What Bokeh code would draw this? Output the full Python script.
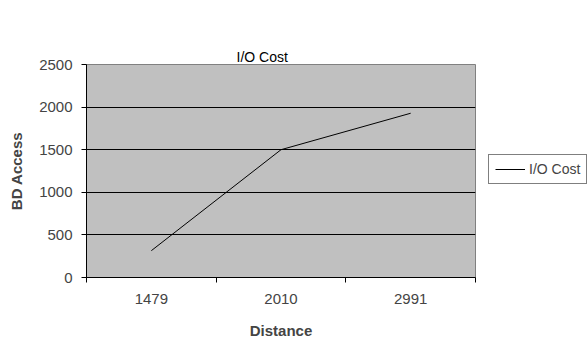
from bokeh.plotting import figure
from bokeh.models import Range1d, FixedTicker, Legend, LegendItem, LinearAxis
from bokeh.embed import file_html
from bokeh.resources import INLINE

categories = ["1479", "2010", "2991"]
io_cost = [315, 1500, 1928]
y_ticks = [0, 500, 1000, 1500, 2000, 2500]

FONT = "Liberation Sans"

# category slots: category i occupies [i, i+1], drawn at its centre
x_pos = [i + 0.5 for i in range(len(categories))]
x_edges = list(range(len(categories) + 1))

p = figure(frame_width=389, frame_height=213,
           output_backend="svg", toolbar_location=None,
           x_range=Range1d(0, len(categories)),
           y_range=Range1d(0, 2500),
           min_border_left=86, min_border_right=113,
           min_border_top=64, min_border_bottom=62)

p.border_fill_color = "white"
p.background_fill_color = "#c0c0c0"
p.outline_line_color = "#808080"
p.outline_line_width = 1

# bottom x axis (grab it before any other axis is added)
xax = p.below[0]

# title
p.title.text = "I/O Cost"
p.title.text_font = FONT
p.title.text_font_size = "14px"
p.title.text_font_style = "normal"
p.title.align = "left"
p.title.offset = 150
p.title.vertical_align = "bottom"
p.title.standoff = 0
p.title.text_color = "#000000"

# y axis
yax = p.left[0]
yax.ticker = FixedTicker(ticks=y_ticks)
yax.axis_label = "BD Access"
yax.axis_label_text_font = FONT
yax.axis_label_text_font_size = "15px"
yax.axis_label_text_font_style = "bold"
yax.axis_label_standoff = 11
yax.major_label_text_font = FONT
yax.major_label_text_font_size = "15px"
yax.major_label_standoff = 9
yax.major_tick_out = 5
yax.major_tick_in = 0
yax.minor_tick_line_color = None
yax.axis_line_color = "#000000"
yax.major_tick_line_color = "#000000"

p.ygrid.ticker = FixedTicker(ticks=y_ticks)
p.ygrid.grid_line_color = "#000000"
p.ygrid.grid_line_width = 1
p.xgrid.grid_line_color = None

# x axis: labels at category centres, tick marks at category edges
xax.ticker = FixedTicker(ticks=x_pos, minor_ticks=x_edges)
xax.major_label_overrides = {x: c for x, c in zip(x_pos, categories)}
xax.major_tick_line_color = None
xax.major_tick_out = 5
xax.major_tick_in = 0
xax.minor_tick_line_color = "#000000"
xax.minor_tick_out = 5
xax.minor_tick_in = 0
xax.axis_line_color = "#000000"
xax.major_label_text_font = FONT
xax.major_label_text_font_size = "15px"
xax.major_label_standoff = 11
xax.axis_label = "Distance"
xax.axis_label_text_font = FONT
xax.axis_label_text_font_size = "15px"
xax.axis_label_text_font_style = "bold"
xax.axis_label_standoff = 15

# invisible spacer between the title and the plot area
spacer = LinearAxis(ticker=FixedTicker(ticks=[], minor_ticks=[]),
                    axis_line_color=None, major_tick_line_color=None,
                    minor_tick_line_color=None,
                    major_tick_out=38, major_tick_in=0, minor_tick_out=0,
                    major_label_standoff=0, axis_label_standoff=0)
p.add_layout(spacer, "above")

r = p.line(x=x_pos, y=io_cost, line_color="#000000", line_width=1)

legend = Legend(items=[LegendItem(label="I/O Cost", renderers=[r])],
                location=(13, 93),
                border_line_color="#000000", border_line_width=1,
                background_fill_color="white", background_fill_alpha=1,
                label_text_font=FONT, label_text_font_size="14px",
                glyph_width=30, glyph_height=14, label_standoff=4,
                padding=6, spacing=0, margin=0,
                label_height=14)
p.add_layout(legend, "right")

open("out.html", "w").write(file_html(p, INLINE))
